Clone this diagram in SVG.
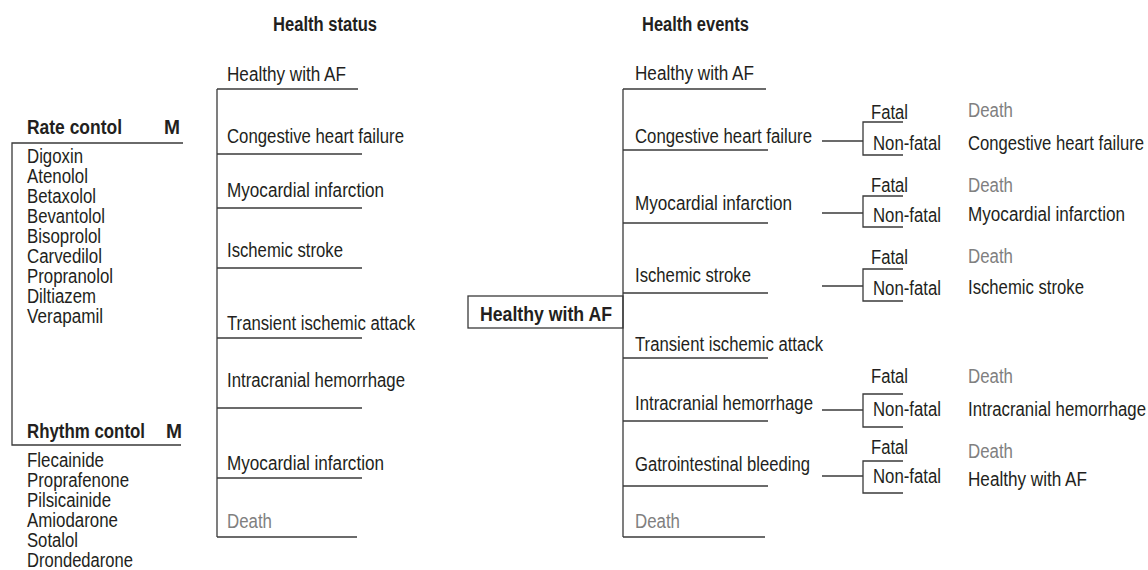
<svg xmlns="http://www.w3.org/2000/svg" width="1148" height="570" viewBox="0 0 1148 570">
<style>
text{font-family:'Liberation Sans',Arial,sans-serif;font-size:20px;fill:#231f20}
.b{font-weight:bold}
.g{fill:#808080}
line,polyline,rect{stroke:#3a3a3a;stroke-width:1.3;fill:none}
</style>
<g id="headers">
<text class="b" x="273" y="31" textLength="104" lengthAdjust="spacingAndGlyphs">Health status</text>
<text class="b" x="642" y="31" textLength="107" lengthAdjust="spacingAndGlyphs">Health events</text>
</g>
<g id="rate-control">
<text class="b" x="27" y="134" textLength="95" lengthAdjust="spacingAndGlyphs">Rate contol</text>
<text class="b" x="164" y="134" textLength="16" lengthAdjust="spacingAndGlyphs">M</text>
<text x="27" y="163" textLength="56" lengthAdjust="spacingAndGlyphs">Digoxin</text>
<text x="27" y="183" textLength="61" lengthAdjust="spacingAndGlyphs">Atenolol</text>
<text x="27" y="203" textLength="69" lengthAdjust="spacingAndGlyphs">Betaxolol</text>
<text x="27" y="223" textLength="78" lengthAdjust="spacingAndGlyphs">Bevantolol</text>
<text x="27" y="243" textLength="74" lengthAdjust="spacingAndGlyphs">Bisoprolol</text>
<text x="27" y="263" textLength="75" lengthAdjust="spacingAndGlyphs">Carvedilol</text>
<text x="27" y="283" textLength="86" lengthAdjust="spacingAndGlyphs">Propranolol</text>
<text x="27" y="303" textLength="69" lengthAdjust="spacingAndGlyphs">Diltiazem</text>
<text x="27" y="323" textLength="76" lengthAdjust="spacingAndGlyphs">Verapamil</text>
</g>
<g id="rhythm-control">
<text class="b" x="27" y="438" textLength="118" lengthAdjust="spacingAndGlyphs">Rhythm contol</text>
<text class="b" x="166" y="438" textLength="16" lengthAdjust="spacingAndGlyphs">M</text>
<text x="27" y="467" textLength="77" lengthAdjust="spacingAndGlyphs">Flecainide</text>
<text x="27" y="487" textLength="102" lengthAdjust="spacingAndGlyphs">Proprafenone</text>
<text x="27" y="507" textLength="84" lengthAdjust="spacingAndGlyphs">Pilsicainide</text>
<text x="27" y="527" textLength="91" lengthAdjust="spacingAndGlyphs">Amiodarone</text>
<text x="27" y="547" textLength="51" lengthAdjust="spacingAndGlyphs">Sotalol</text>
<text x="27" y="567" textLength="106" lengthAdjust="spacingAndGlyphs">Drondedarone</text>
</g>
<g id="health-status">
<text x="227" y="81" textLength="119" lengthAdjust="spacingAndGlyphs">Healthy with AF</text>
<text x="227" y="143" textLength="177" lengthAdjust="spacingAndGlyphs">Congestive heart failure</text>
<text x="227" y="197" textLength="157" lengthAdjust="spacingAndGlyphs">Myocardial infarction</text>
<text x="227" y="257" textLength="116" lengthAdjust="spacingAndGlyphs">Ischemic stroke</text>
<text x="227" y="330" textLength="188" lengthAdjust="spacingAndGlyphs">Transient ischemic attack</text>
<text x="227" y="387" textLength="178" lengthAdjust="spacingAndGlyphs">Intracranial hemorrhage</text>
<text x="227" y="470" textLength="157" lengthAdjust="spacingAndGlyphs">Myocardial infarction</text>
<text x="227" y="528" class="g" textLength="45" lengthAdjust="spacingAndGlyphs">Death</text>
</g>
<g id="root-node">
<rect x="468" y="296" width="155" height="32"/>
<text class="b" x="480" y="321" textLength="132" lengthAdjust="spacingAndGlyphs">Healthy with AF</text>
</g>
<g id="health-events">
<text x="635" y="80" textLength="119" lengthAdjust="spacingAndGlyphs">Healthy with AF</text>
<text x="635" y="143" textLength="177" lengthAdjust="spacingAndGlyphs">Congestive heart failure</text>
<text x="635" y="210" textLength="157" lengthAdjust="spacingAndGlyphs">Myocardial infarction</text>
<text x="635" y="282" textLength="116" lengthAdjust="spacingAndGlyphs">Ischemic stroke</text>
<text x="635" y="351" textLength="188" lengthAdjust="spacingAndGlyphs">Transient ischemic attack</text>
<text x="635" y="410" textLength="178" lengthAdjust="spacingAndGlyphs">Intracranial hemorrhage</text>
<text x="635" y="471" textLength="175" lengthAdjust="spacingAndGlyphs">Gatrointestinal bleeding</text>
<text x="635" y="528" class="g" textLength="45" lengthAdjust="spacingAndGlyphs">Death</text>
</g>
<g id="outcomes">
<text x="871" y="119" textLength="37" lengthAdjust="spacingAndGlyphs">Fatal</text><text x="873" y="150" textLength="68" lengthAdjust="spacingAndGlyphs">Non-fatal</text>
<text x="968" y="117" class="g" textLength="45" lengthAdjust="spacingAndGlyphs">Death</text><text x="968" y="150" textLength="176" lengthAdjust="spacingAndGlyphs">Congestive heart failure</text>
<text x="871" y="192" textLength="37" lengthAdjust="spacingAndGlyphs">Fatal</text><text x="873" y="222" textLength="68" lengthAdjust="spacingAndGlyphs">Non-fatal</text>
<text x="968" y="192" class="g" textLength="45" lengthAdjust="spacingAndGlyphs">Death</text><text x="968" y="221" textLength="157" lengthAdjust="spacingAndGlyphs">Myocardial infarction</text>
<text x="871" y="264" textLength="37" lengthAdjust="spacingAndGlyphs">Fatal</text><text x="873" y="295" textLength="68" lengthAdjust="spacingAndGlyphs">Non-fatal</text>
<text x="968" y="263" class="g" textLength="45" lengthAdjust="spacingAndGlyphs">Death</text><text x="968" y="294" textLength="116" lengthAdjust="spacingAndGlyphs">Ischemic stroke</text>
<text x="871" y="383" textLength="37" lengthAdjust="spacingAndGlyphs">Fatal</text><text x="873" y="416" textLength="68" lengthAdjust="spacingAndGlyphs">Non-fatal</text>
<text x="968" y="383" class="g" textLength="45" lengthAdjust="spacingAndGlyphs">Death</text><text x="968" y="416" textLength="178" lengthAdjust="spacingAndGlyphs">Intracranial hemorrhage</text>
<text x="871" y="454" textLength="37" lengthAdjust="spacingAndGlyphs">Fatal</text><text x="873" y="483" textLength="68" lengthAdjust="spacingAndGlyphs">Non-fatal</text>
<text x="968" y="458" class="g" textLength="45" lengthAdjust="spacingAndGlyphs">Death</text><text x="968" y="486" textLength="119" lengthAdjust="spacingAndGlyphs">Healthy with AF</text>
</g>
<g id="connectors">
<polyline points="183,143 12,143 12,445 181,445"/>
<line x1="217" y1="89" x2="217" y2="537"/>
<line x1="217" y1="89" x2="358" y2="89"/>
<line x1="217" y1="154" x2="362" y2="154"/>
<line x1="217" y1="208" x2="362" y2="208"/>
<line x1="217" y1="268" x2="362" y2="268"/>
<line x1="217" y1="338" x2="362" y2="338"/>
<line x1="217" y1="408" x2="362" y2="408"/>
<line x1="217" y1="478" x2="362" y2="478"/>
<line x1="217" y1="537" x2="357" y2="537"/>
<line x1="623" y1="89" x2="623" y2="537"/>
<line x1="623" y1="89" x2="766" y2="89"/>
<line x1="623" y1="150" x2="768" y2="150"/>
<line x1="623" y1="223" x2="768" y2="223"/>
<line x1="623" y1="293" x2="768" y2="293"/>
<line x1="623" y1="358" x2="768" y2="358"/>
<line x1="623" y1="421" x2="768" y2="421"/>
<line x1="623" y1="486" x2="768" y2="486"/>
<line x1="623" y1="537" x2="765" y2="537"/>
<polyline points="903,122 863,122 863,155 903,155"/><line x1="822" y1="141" x2="863" y2="141"/>
<polyline points="903,196 863,196 863,227 903,227"/><line x1="822" y1="213" x2="863" y2="213"/>
<polyline points="903,269 863,269 863,301 903,301"/><line x1="822" y1="286" x2="863" y2="286"/>
<polyline points="903,394 863,394 863,427 903,427"/><line x1="822" y1="410" x2="863" y2="410"/>
<polyline points="903,461 863,461 863,493 903,493"/><line x1="822" y1="476" x2="863" y2="476"/>
</g>
</svg>
